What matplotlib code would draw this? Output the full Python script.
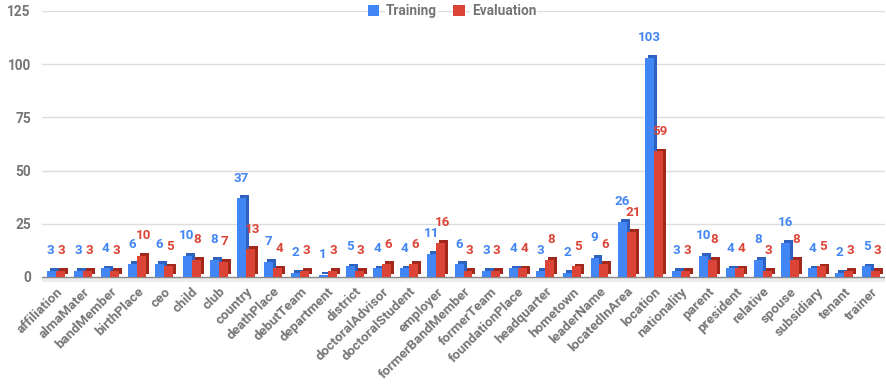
import matplotlib
matplotlib.use("Agg")
import matplotlib.pyplot as plt
import matplotlib.transforms as mtransforms
import numpy as np
from matplotlib.patches import Patch

categories = ["affiliation", "almaMater", "bandMember", "birthPlace", "ceo", "child", "club",
              "country", "deathPlace", "debutTeam", "department", "district", "doctoralAdvisor",
              "doctoralStudent", "employer", "formerBandMember", "formerTeam", "foundationPlace",
              "headquarter", "hometown", "leaderName", "locatedInArea", "location", "nationality",
              "parent", "president", "relative", "spouse", "subsidiary", "tenant", "trainer"]
training = [3, 3, 4, 6, 6, 10, 8, 37, 7, 2, 1, 5, 4, 4, 11, 6, 3, 4, 3, 2, 9, 26, 103, 3, 10, 4, 8, 16, 4, 2, 5]
evaluation = [3, 3, 3, 10, 5, 8, 7, 13, 4, 3, 3, 3, 6, 6, 16, 3, 3, 4, 8, 5, 6, 21, 59, 3, 8, 4, 3, 8, 5, 3, 3]
yticks = [0, 25, 50, 75, 100, 125]

plt.rcParams['font.family'] = ['Roboto', 'DejaVu Sans']

BLUE, BLUE_D = "#4285F4", "#2F62C0"
RED, RED_D = "#DB4437", "#A3281C"
GRAY = "#757575"

fig = plt.figure(figsize=(8.86, 3.84), dpi=100)
ax = fig.add_axes([0.0474, 0.265, 0.9515, 0.7065])

x = np.arange(len(categories))
w = 0.33
dx, dy = 0.11, 1.3

series = [(training, -w / 2, BLUE, BLUE_D, -0.01), (evaluation, w / 2, RED, RED_D, 0.06)]
for vals, off, c, cd, loff in series:
    vals = np.array(vals, dtype=float)
    # back (side/top) face
    ax.bar(x + off + dx, vals, width=w, bottom=dy, color=cd, zorder=2, linewidth=0)
for vals, off, c, cd, loff in series:
    vals = np.array(vals, dtype=float)
    ax.bar(x + off, vals, width=w, color=c, zorder=3, linewidth=0)
    for xi, v in zip(x, vals):
        ax.annotate(f"{int(v)}", (xi + off + loff, v), xytext=(0, 14.5),
                    textcoords="offset points", ha="center", va="center",
                    fontsize=9.6, fontweight="bold", color=c, zorder=5)

ax.set_xlim(-0.5, len(categories) - 0.5)
ax.set_ylim(-2.5, 125)
ax.axhspan(-2.5, 0, color="#ececec", zorder=1, linewidth=0)
ax.axhline(0, color="#8a8a8a", linewidth=1.0, zorder=1.5)
ax.set_yticks(yticks)
ax.set_yticklabels([str(t) for t in yticks], fontsize=9.8, fontweight="bold", color=GRAY)
for t in yticks[1:]:
    ax.axhline(t, color="#dddddd", linewidth=1.0, zorder=0)

ax.set_xticks(x)
ax.set_xticklabels(categories, rotation=45, ha="right", rotation_mode="anchor",
                   fontsize=9.7, fontweight="bold", color=GRAY)
shift = mtransforms.ScaledTranslation(4 / 100, 0, fig.dpi_scale_trans)
for lab in ax.get_xticklabels():
    lab.set_transform(lab.get_transform() + shift)
ax.tick_params(axis="x", length=0, pad=2)
ax.tick_params(axis="y", length=0, pad=8)
for s in ax.spines.values():
    s.set_visible(False)

handles = [Patch(facecolor=BLUE, edgecolor="none"), Patch(facecolor=RED, edgecolor="none")]
leg = fig.legend(handles, ["Training", "Evaluation"], loc="center", bbox_to_anchor=(0.51, 0.971),
                 ncol=2, frameon=False, handlelength=0.85, handleheight=0.85, handletextpad=0.5,
                 columnspacing=1.2, borderaxespad=0, prop={"size": 9.8, "weight": "bold"})
for t in leg.get_texts():
    t.set_color(GRAY)
    t.set_bbox(dict(facecolor="white", edgecolor="none", pad=1))

fig.savefig("out.png", dpi=100, facecolor="white")
